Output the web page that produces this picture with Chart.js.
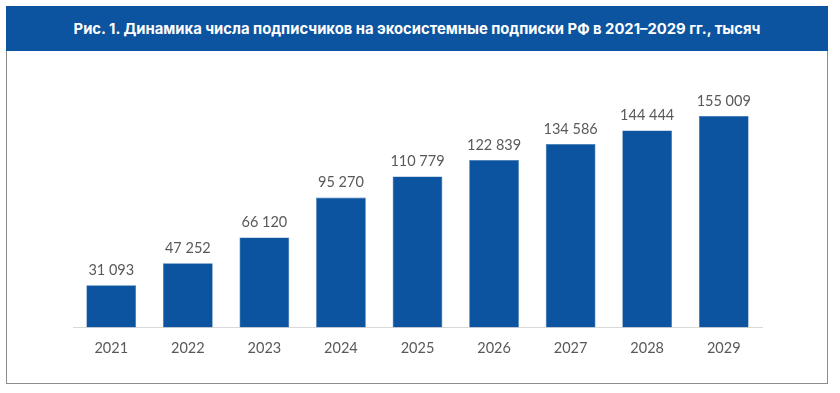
<!DOCTYPE html>
<html>
<head>
<meta charset="utf-8">
<script src="https://cdn.jsdelivr.net/npm/chart.js@4"></script>
<style>
  body { margin: 0; background: #fff; }
  #wrap { position: relative; width: 840px; height: 393px; }
  #head {
    position: absolute; left: 6px; top: 6px; width: 822px; height: 45px;
    background: #0c54a0; color: #fff;
    font: bold 14.8px Inter, sans-serif;
    display: flex; align-items: center; justify-content: center;
  }
  #box {
    position: absolute; left: 6px; top: 51px; width: 820px; height: 332px;
    border: 1px solid #8c8c8c; border-top: none;
  }
  canvas { position: absolute; left: 0; top: 0; }
</style>
</head>
<body>
<div id="wrap">
  <div id="head">Рис. 1. Динамика числа подписчиков на экосистемные подписки РФ в 2021–2029 гг., тысяч</div>
  <div id="box"></div>
  <canvas id="chart" width="840" height="393"></canvas>
</div>
<script>
const years = ['2021', '2022', '2023', '2024', '2025', '2026', '2027', '2028', '2029'];
const subscribers = [31093, 47252, 66120, 95270, 110779, 122839, 134586, 144444, 155009];

function fmt(v) {
    return String(v).replace(/\B(?=(\d{3})+(?!\d))/g, ' ');
}

// labels above the bars
const barLabels = {
    id: 'barLabels',
    afterDatasetsDraw(chart) {
        const ctx = chart.ctx;
        const meta = chart.getDatasetMeta(0);
        ctx.save();
        ctx.font = '14.5px Lato, sans-serif';
        ctx.fillStyle = '#595959';
        ctx.textAlign = 'center';
        ctx.textBaseline = 'middle';
        meta.data.forEach((bar, i) => {
            ctx.fillText(fmt(subscribers[i]), bar.x, bar.y - 15);
        });
        ctx.restore();
    }
};

new Chart(document.getElementById('chart'), {
    type: 'bar',
    data: {
        labels: years,
        datasets: [{
            data: subscribers,
            backgroundColor: '#0c54a0',
            borderColor: '#2e6db0',
            borderWidth: 0.6,
            categoryPercentage: 1,
            barPercentage: 0.65
        }]
    },
    options: {
        responsive: false,
        animation: false,
        layout: { padding: { left: 73, right: 78, top: 82, bottom: 24 } },
        plugins: { legend: { display: false }, tooltip: { enabled: false } },
        scales: {
            x: {
                grid: { display: false, drawTicks: false },
                border: { display: true, color: '#d9d9d9', width: 1 },
                ticks: { color: '#595959', font: { family: 'Lato', size: 14.5 }, padding: 12 }
            },
            y: {
                display: false,
                min: 0,
                max: 180000
            }
        }
    },
    plugins: [barLabels]
});
</script>
</body>
</html>
